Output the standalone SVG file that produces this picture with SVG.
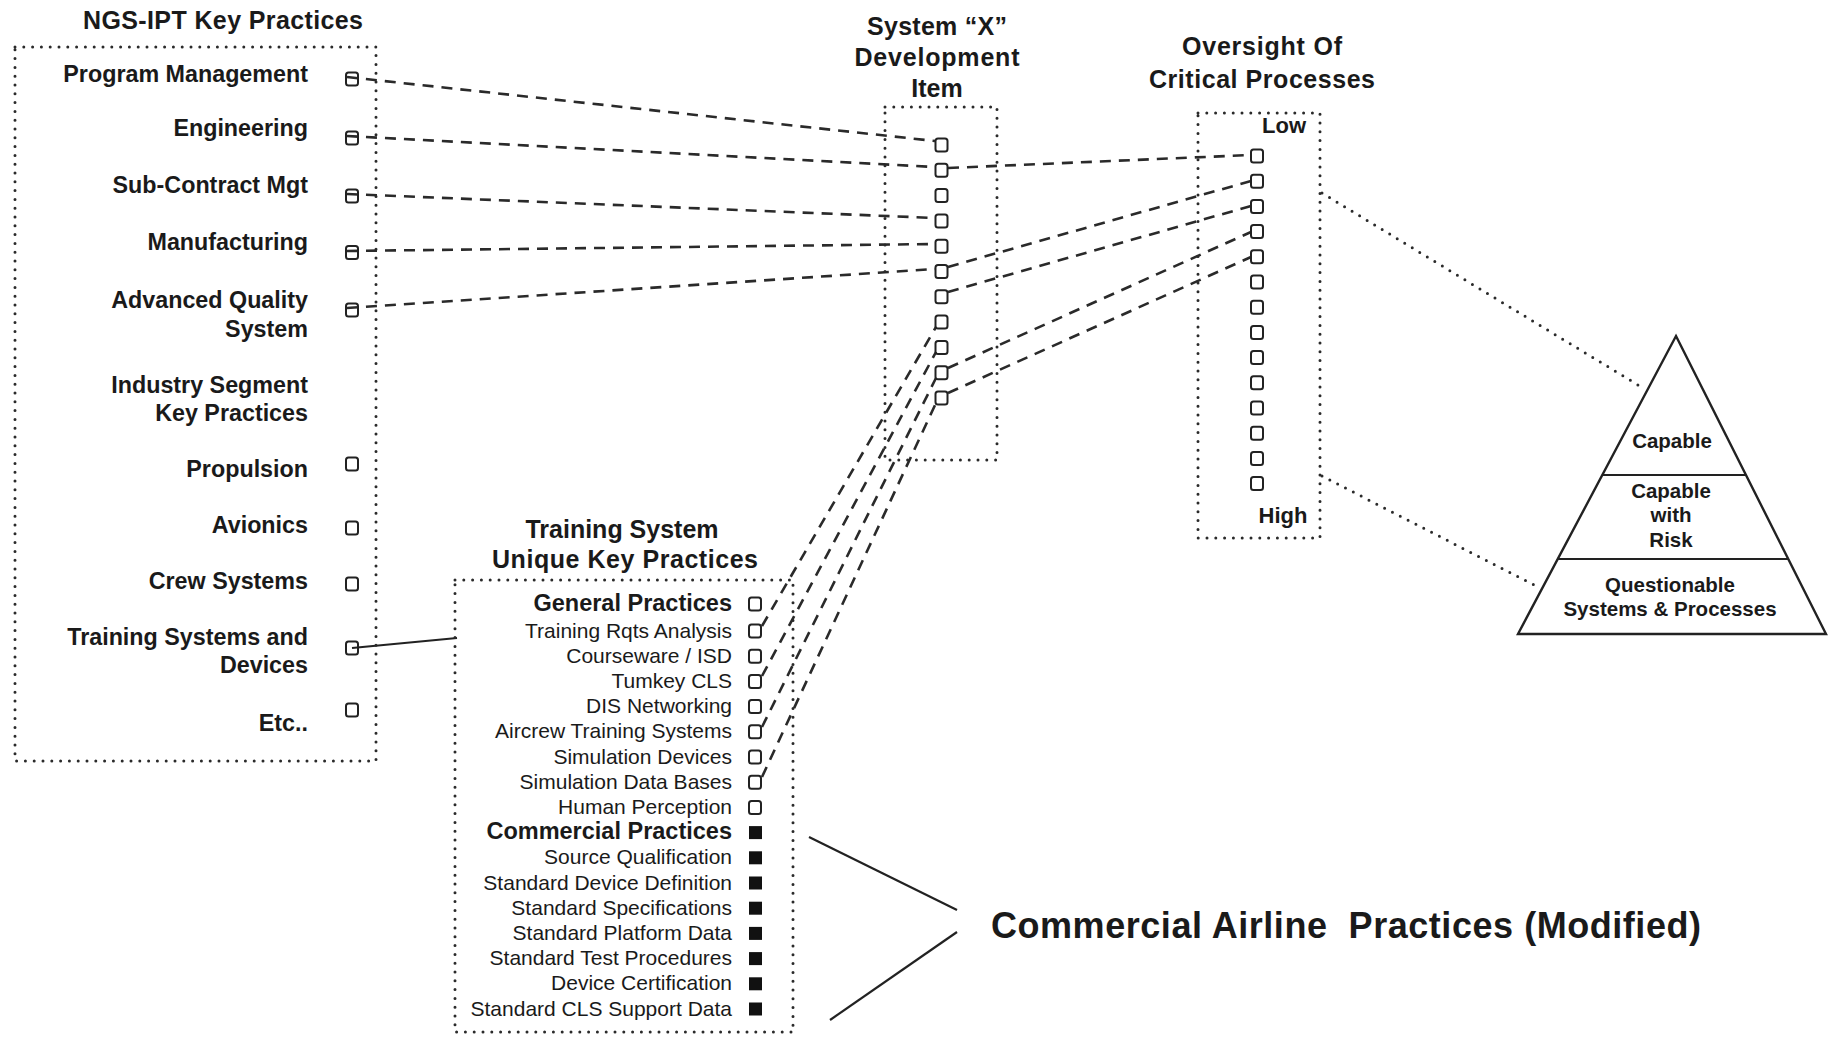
<svg xmlns="http://www.w3.org/2000/svg" width="1834" height="1038" viewBox="0 0 1834 1038">
<style>
text{font-family:"Liberation Sans",Arial,Helvetica,sans-serif;fill:#1a1a1a}
.t{font-weight:bold;font-size:25px;text-anchor:middle}
.lbl{font-weight:bold;font-size:23.3px;text-anchor:end}
.item{font-size:21px;text-anchor:end}
.itemb{font-size:23.5px;font-weight:bold;text-anchor:end}
.pyr{font-size:20.5px;font-weight:bold;text-anchor:middle}
.lh{font-size:22px;font-weight:bold;text-anchor:middle}
.big{font-size:36px;font-weight:bold}
.dot{fill:none;stroke:#2a2a2a;stroke-width:3;stroke-linecap:round;stroke-dasharray:0 8.8}
.dash{fill:none;stroke:#2a2a2a;stroke-width:2.6;stroke-dasharray:11 8}
.solid{fill:none;stroke:#222;stroke-width:2.2}
.sq{fill:none;stroke:#222;stroke-width:2}
.fsq{fill:#111}
.tri{fill:#fff;stroke:#222;stroke-width:2.4;stroke-linejoin:miter}
</style>
<rect width="1834" height="1038" fill="#fff"/>

<g id="connectors">
  <line class="dash" x1="347" y1="77" x2="935" y2="141"/>
  <line class="dash" x1="347" y1="136" x2="935" y2="167"/>
  <line class="dash" x1="347" y1="194" x2="935" y2="218"/>
  <line class="dash" x1="347" y1="251" x2="935" y2="244"/>
  <line class="dash" x1="347" y1="308" x2="935" y2="269"/>
  <line class="dash" x1="948" y1="168" x2="1251" y2="155"/>
  <line class="dash" x1="948" y1="267" x2="1251" y2="181"/>
  <line class="dash" x1="948" y1="292" x2="1251" y2="206"/>
  <line class="dash" x1="948" y1="368" x2="1251" y2="232"/>
  <line class="dash" x1="948" y1="393" x2="1251" y2="257"/>
  <line class="dash" x1="762" y1="626" x2="936" y2="327"/>
  <line class="dash" x1="762" y1="676" x2="936" y2="352"/>
  <line class="dash" x1="762" y1="727" x2="936" y2="378"/>
  <line class="dash" x1="762" y1="777" x2="936" y2="403"/>
  <line class="solid" x1="352" y1="648" x2="457" y2="638"/>
  <line class="dot" x1="1322" y1="193" x2="1643" y2="388"/>
  <line class="dot" x1="1322" y1="476" x2="1536" y2="586"/>
  <line class="solid" x1="809" y1="837" x2="957" y2="910"/>
  <line class="solid" x1="957" y1="932" x2="830" y2="1020"/>
</g>

<g id="ngs-ipt">
  <text class="t" x="223" y="29" textLength="280">NGS-IPT Key Practices</text>
  <rect class="dot" x="15" y="47" width="361" height="714"/>
  <text class="lbl" x="308" y="82">Program Management</text>
  <text class="lbl" x="308" y="136">Engineering</text>
  <text class="lbl" x="308" y="193">Sub-Contract Mgt</text>
  <text class="lbl" x="308" y="250">Manufacturing</text>
  <text class="lbl" x="308" y="308">Advanced Quality</text>
  <text class="lbl" x="308" y="337">System</text>
  <text class="lbl" x="308" y="393">Industry Segment</text>
  <text class="lbl" x="308" y="421">Key Practices</text>
  <text class="lbl" x="308" y="477">Propulsion</text>
  <text class="lbl" x="308" y="533">Avionics</text>
  <text class="lbl" x="308" y="589">Crew Systems</text>
  <text class="lbl" x="308" y="645">Training Systems and</text>
  <text class="lbl" x="308" y="673">Devices</text>
  <text class="lbl" x="308" y="731">Etc..</text>
  <rect class="sq" x="346" y="72.5" width="12" height="13" rx="2.5"/>
  <rect class="sq" x="346" y="131.5" width="12" height="13" rx="2.5"/>
  <rect class="sq" x="346" y="189.5" width="12" height="13" rx="2.5"/>
  <rect class="sq" x="346" y="246" width="12" height="13" rx="2.5"/>
  <rect class="sq" x="346" y="303.5" width="12" height="13" rx="2.5"/>
  <rect class="sq" x="346" y="457.5" width="12" height="13" rx="2.5"/>
  <rect class="sq" x="346" y="521.5" width="12" height="13" rx="2.5"/>
  <rect class="sq" x="346" y="577.5" width="12" height="13" rx="2.5"/>
  <rect class="sq" x="346" y="641.5" width="12" height="13" rx="2.5"/>
  <rect class="sq" x="346" y="703.5" width="12" height="13" rx="2.5"/>
</g>

<g id="system-x">
  <text class="t" x="937" y="35" textLength="140">System “X”</text>
  <text class="t" x="937" y="66" textLength="165">Development</text>
  <text class="t" x="937" y="97">Item</text>
  <rect class="dot" x="885" y="107" width="112" height="353"/>
  <rect class="sq" x="935.5" y="138.5" width="12" height="13" rx="2.5"/>
  <rect class="sq" x="935.5" y="163.8" width="12" height="13" rx="2.5"/>
  <rect class="sq" x="935.5" y="189.1" width="12" height="13" rx="2.5"/>
  <rect class="sq" x="935.5" y="214.4" width="12" height="13" rx="2.5"/>
  <rect class="sq" x="935.5" y="239.7" width="12" height="13" rx="2.5"/>
  <rect class="sq" x="935.5" y="265" width="12" height="13" rx="2.5"/>
  <rect class="sq" x="935.5" y="290.3" width="12" height="13" rx="2.5"/>
  <rect class="sq" x="935.5" y="315.6" width="12" height="13" rx="2.5"/>
  <rect class="sq" x="935.5" y="340.9" width="12" height="13" rx="2.5"/>
  <rect class="sq" x="935.5" y="366.2" width="12" height="13" rx="2.5"/>
  <rect class="sq" x="935.5" y="391.5" width="12" height="13" rx="2.5"/>
</g>

<g id="oversight">
  <text class="t" x="1262" y="55" textLength="160">Oversight Of</text>
  <text class="t" x="1262" y="88" textLength="226">Critical Processes</text>
  <rect class="dot" x="1198" y="113" width="122" height="425"/>
  <text class="lh" x="1284" y="133">Low</text>
  <text class="lh" x="1283" y="523">High</text>
  <rect class="sq" x="1251" y="149.5" width="12" height="13" rx="2.5"/>
  <rect class="sq" x="1251" y="174.7" width="12" height="13" rx="2.5"/>
  <rect class="sq" x="1251" y="199.9" width="12" height="13" rx="2.5"/>
  <rect class="sq" x="1251" y="225.1" width="12" height="13" rx="2.5"/>
  <rect class="sq" x="1251" y="250.3" width="12" height="13" rx="2.5"/>
  <rect class="sq" x="1251" y="275.5" width="12" height="13" rx="2.5"/>
  <rect class="sq" x="1251" y="300.7" width="12" height="13" rx="2.5"/>
  <rect class="sq" x="1251" y="325.9" width="12" height="13" rx="2.5"/>
  <rect class="sq" x="1251" y="351.1" width="12" height="13" rx="2.5"/>
  <rect class="sq" x="1251" y="376.3" width="12" height="13" rx="2.5"/>
  <rect class="sq" x="1251" y="401.5" width="12" height="13" rx="2.5"/>
  <rect class="sq" x="1251" y="426.7" width="12" height="13" rx="2.5"/>
  <rect class="sq" x="1251" y="451.9" width="12" height="13" rx="2.5"/>
  <rect class="sq" x="1251" y="477.1" width="12" height="13" rx="2.5"/>
</g>

<g id="pyramid">
  <polygon class="tri" points="1676,336 1826,634 1518,634"/>
  <line class="solid" x1="1602.3" y1="475" x2="1746" y2="475"/>
  <line class="solid" x1="1557.8" y1="559" x2="1788.2" y2="559"/>
  <text class="pyr" x="1672" y="448">Capable</text>
  <text class="pyr" x="1671" y="498">Capable</text>
  <text class="pyr" x="1671" y="522">with</text>
  <text class="pyr" x="1671" y="547">Risk</text>
  <text class="pyr" x="1670" y="592">Questionable</text>
  <text class="pyr" x="1670" y="616">Systems &amp; Processes</text>
</g>

<g id="training">
  <text class="t" x="622" y="538">Training System</text>
  <text class="t" x="625" y="568" textLength="266">Unique Key Practices</text>
  <rect class="dot" x="455" y="580" width="338" height="452"/>
  <text class="itemb" x="732" y="611">General Practices</text>
  <text class="item" x="732" y="637.5">Training Rqts Analysis</text>
  <text class="item" x="732" y="662.7">Courseware / ISD</text>
  <text class="item" x="732" y="687.9">Tumkey CLS</text>
  <text class="item" x="732" y="713.1">DIS Networking</text>
  <text class="item" x="732" y="738.3">Aircrew Training Systems</text>
  <text class="item" x="732" y="763.5">Simulation Devices</text>
  <text class="item" x="732" y="788.7">Simulation Data Bases</text>
  <text class="item" x="732" y="813.9">Human Perception</text>
  <text class="itemb" x="732" y="839.1">Commercial Practices</text>
  <text class="item" x="732" y="864.3">Source Qualification</text>
  <text class="item" x="732" y="889.5">Standard Device Definition</text>
  <text class="item" x="732" y="914.7">Standard Specifications</text>
  <text class="item" x="732" y="939.9">Standard Platform Data</text>
  <text class="item" x="732" y="965.1">Standard Test Procedures</text>
  <text class="item" x="732" y="990.3">Device Certification</text>
  <text class="item" x="732" y="1015.5">Standard CLS Support Data</text>
  <rect class="sq" x="749" y="597.5" width="12" height="13" rx="2.5"/>
  <rect class="sq" x="749" y="624.5" width="12" height="13" rx="2.5"/>
  <rect class="sq" x="749" y="649.7" width="12" height="13" rx="2.5"/>
  <rect class="sq" x="749" y="674.9" width="12" height="13" rx="2.5"/>
  <rect class="sq" x="749" y="700.1" width="12" height="13" rx="2.5"/>
  <rect class="sq" x="749" y="725.3" width="12" height="13" rx="2.5"/>
  <rect class="sq" x="749" y="750.5" width="12" height="13" rx="2.5"/>
  <rect class="sq" x="749" y="775.7" width="12" height="13" rx="2.5"/>
  <rect class="sq" x="749" y="800.9" width="12" height="13" rx="2.5"/>
  <rect class="fsq" x="749" y="826.1" width="13" height="13"/>
  <rect class="fsq" x="749" y="851.3" width="13" height="13"/>
  <rect class="fsq" x="749" y="876.5" width="13" height="13"/>
  <rect class="fsq" x="749" y="901.7" width="13" height="13"/>
  <rect class="fsq" x="749" y="926.9" width="13" height="13"/>
  <rect class="fsq" x="749" y="952.1" width="13" height="13"/>
  <rect class="fsq" x="749" y="977.3" width="13" height="13"/>
  <rect class="fsq" x="749" y="1002.5" width="13" height="13"/>
</g>

<g id="commercial-airline">
  <text class="big" x="991" y="938" textLength="710">Commercial Airline&#160; Practices (Modified)</text>
</g>
</svg>
